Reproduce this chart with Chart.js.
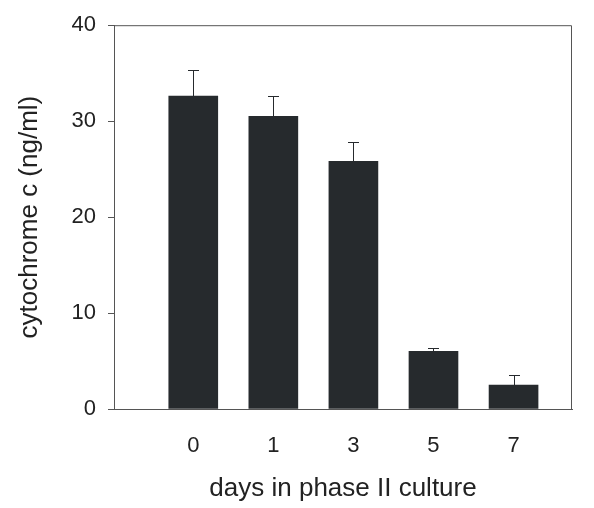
<!DOCTYPE html>
<html lang="en">
<head>
<meta charset="UTF-8">
<title>cytochrome c</title>
<script src="https://cdn.jsdelivr.net/npm/chart.js"></script>
<style>
  html, body { margin: 0; padding: 0; background: #fff; }
  #wrap { width: 594px; height: 508px; }
</style>
</head>
<body>
<div id="wrap"><canvas id="chart" width="594" height="508"></canvas></div>
<script>
// values
const days = ['0', '1', '3', '5', '7'];
const means = [32.6, 30.5, 25.8, 6.0, 2.5];
const errors = [2.7, 2.1, 2.0, 0.35, 1.0];
const yTicks = [0, 10, 20, 30, 40];

const axisColor = '#555';
const barColor = '#262a2d';

// box around the plot + error bars
const extras = {
    id: 'extras',
    afterDatasetsDraw(chart) {
        const ctx = chart.ctx;
        const x = chart.scales.x, y = chart.scales.y;
        ctx.save();
        ctx.strokeStyle = barColor;
        ctx.lineWidth = 1;
        means.forEach((m, i) => {
            const px = Math.round(x.getPixelForValue(i)) + 0.5;
            const top = Math.round(y.getPixelForValue(m + errors[i])) + 0.5;
            const base = y.getPixelForValue(m);
            ctx.beginPath();
            ctx.moveTo(px, base);
            ctx.lineTo(px, top);
            ctx.moveTo(px - 5.5, top);
            ctx.lineTo(px + 5.5, top);
            ctx.stroke();
        });
        const a = chart.chartArea;
        ctx.strokeStyle = axisColor;
        ctx.beginPath();
        ctx.moveTo(a.left, a.top + 0.5);
        ctx.lineTo(a.right - 0.5, a.top + 0.5);
        ctx.lineTo(a.right - 0.5, a.bottom);
        ctx.stroke();
        ctx.restore();
    }
};

new Chart(document.getElementById('chart'), {
    type: 'bar',
    data: {
        datasets: [{
            data: means.map((m, i) => ({ x: i, y: m })),
            backgroundColor: barColor,
            barThickness: 49
        }]
    },
    options: {
        responsive: false,
        animation: false,
        layout: { padding: { top: 22, right: 22, left: 0, bottom: 0 } },
        plugins: { legend: { display: false }, tooltip: { enabled: false } },
        scales: {
            x: {
                type: 'linear',
                offset: false,
                min: -0.99,
                max: 4.73,
                afterBuildTicks: s => { s.ticks = days.map((d, i) => ({ value: i })); },
                afterFit: s => { s.height = 99; },
                grid: { display: false, offset: false },
                border: { color: axisColor, width: 1 },
                ticks: {
                    callback: v => days[v],
                    color: '#222',
                    padding: 16,
                    maxRotation: 0,
                    font: { family: 'Liberation Sans', size: 22 }
                },
                title: {
                    display: true,
                    text: 'days in phase II culture',
                    color: '#222',
                    padding: { top: 12 },
                    font: { family: 'Liberation Sans', size: 26 }
                }
            },
            y: {
                min: 0,
                max: 40,
                afterBuildTicks: s => { s.ticks = yTicks.map(v => ({ value: v })); },
                afterFit: s => { s.width = 114; },
                grid: { drawOnChartArea: false, drawTicks: true, tickLength: 6, color: axisColor },
                border: { color: axisColor, width: 1 },
                ticks: {
                    color: '#222',
                    padding: 12,
                    font: { family: 'Liberation Sans', size: 22 }
                },
                title: {
                    display: true,
                    text: 'cytochrome c (ng/ml)',
                    color: '#222',
                    padding: { top: 14, bottom: 0 },
                    font: { family: 'Liberation Sans', size: 26 }
                }
            }
        }
    },
    plugins: [extras]
});
</script>
</body>
</html>
